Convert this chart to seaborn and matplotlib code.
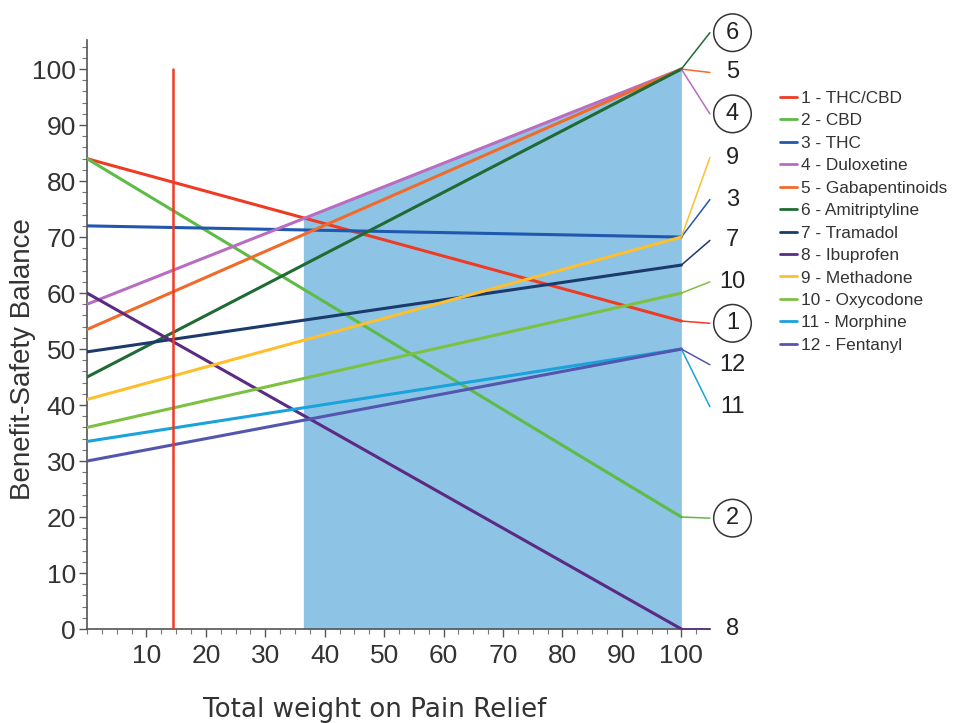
import numpy as np
import pandas as pd
import matplotlib
matplotlib.use("Agg")
import matplotlib.pyplot as plt
import seaborn as sns
from matplotlib.ticker import MultipleLocator, FixedLocator

# ---- data ----
drugs = ["1 - THC/CBD", "2 - CBD", "3 - THC", "4 - Duloxetine", "5 - Gabapentinoids",
         "6 - Amitriptyline", "7 - Tramadol", "8 - Ibuprofen", "9 - Methadone",
         "10 - Oxycodone", "11 - Morphine", "12 - Fentanyl"]
weights = [0, 100]
balance_at_0 = [84, 84, 72, 58, 53.5, 45, 49.5, 60, 41, 36, 33.5, 30]
balance_at_100 = [55, 20, 70, 100, 100, 100, 65, 0, 70, 60, 50, 50]
colors = ["#EE3B24", "#5DBB46", "#2058B0", "#B86CC2", "#F26A2A", "#1F6B33",
          "#1C3A6C", "#5B2A83", "#FDBF2D", "#7CC142", "#1AA2DA", "#5356AE"]
current_weight = 14.4
region_start = 36.4
short_labels = ["1", "2", "3", "4", "5", "6", "7", "8", "9", "10", "11", "12"]
circled = ["1", "2", "4", "6"]

# label positions on the right (layout)
label_y = {"6": 106.5, "5": 99.4, "4": 92.0, "9": 84.2, "3": 76.7, "7": 69.4,
           "10": 62.0, "1": 54.6, "12": 47.2, "11": 39.7, "2": 19.8, "8": 0.0}

rows = []
for d, a, b in zip(drugs, balance_at_0, balance_at_100):
    rows.append({"drug": d, "w": weights[0], "b": a})
    rows.append({"drug": d, "w": weights[1], "b": b})
df = pd.DataFrame(rows)

sns.set_style("white")
plt.rcParams["font.family"] = ["Liberation Sans", "DejaVu Sans"]

fig = plt.figure(figsize=(9.71, 7.23), dpi=100)
ax = fig.add_axes([0.0896, 0.130, 0.6415, 0.8147])

# shaded region under upper envelope
xs = np.linspace(region_start, 100, 400)
env = np.max([np.interp(xs, weights, [a, b]) for a, b in zip(balance_at_0, balance_at_100)], axis=0)
ax.fill_between(xs, 0, env, color="#8DC4E5", lw=0, zorder=1)

sns.lineplot(data=df, x="w", y="b", hue="drug", hue_order=drugs, palette=colors,
             lw=2.2, ax=ax, zorder=3)

ax.plot([current_weight, current_weight], [0, 100], color="#EE3B24", lw=1.8, zorder=4)

# leader lines and labels
lx_end = 104.8
for s, col, b in zip(short_labels, colors, balance_at_100):
    ly = label_y[s]
    ax.plot([100, lx_end], [b, ly], color=col, lw=1.1, clip_on=False, zorder=3)
    if s in circled:
        ax.text(108.6, ly, s, fontsize=17, ha="center", va="center", color="#222222",
                clip_on=False,
                bbox=dict(boxstyle="circle,pad=0.33", fc="white", ec="#333333", lw=1.1))
    else:
        ax.text(108.6, ly, s, fontsize=17, ha="center", va="center", color="#222222",
                clip_on=False)

ax.set_xlim(0, 104.8)
ax.set_ylim(0, 105.2)
ax.xaxis.set_major_locator(FixedLocator(np.arange(10, 101, 10)))
ax.xaxis.set_minor_locator(MultipleLocator(2.5))
ax.yaxis.set_major_locator(MultipleLocator(10))
ax.yaxis.set_minor_locator(MultipleLocator(2))
ax.set_yticks(np.arange(0, 101, 10))
ax.tick_params(axis="x", which="major", labelsize=19, length=6, width=1, color="#555555",
               labelcolor="#333333", direction="out", bottom=True, pad=5)
ax.tick_params(axis="y", which="major", labelsize=19, length=6, width=1, color="#555555",
               labelcolor="#333333", direction="out", left=True, pad=2)
ax.tick_params(which="minor", length=3.5, width=0.8, color="#777777", direction="out",
               bottom=True, left=True)
for sp in ["top", "right"]:
    ax.spines[sp].set_visible(False)
for sp in ["left", "bottom"]:
    ax.spines[sp].set_color("#555555")
    ax.spines[sp].set_linewidth(1.2)

ax.set_ylabel("Benefit-Safety Balance", fontsize=20, color="#333333")
ax.yaxis.set_label_coords(-0.082, 0.458)
ax.set_xlabel("Total weight on Pain Relief", fontsize=18.8, color="#333333",
              family="DejaVu Sans")
ax.xaxis.set_label_coords(0.462, -0.115)

handles, labels = ax.get_legend_handles_labels()
ax.get_legend().remove()
leg = fig.legend(handles, labels, loc="upper left", bbox_to_anchor=(0.796, 0.884),
                 frameon=False, fontsize=12.4, handlelength=1.0, handletextpad=0.25,
                 labelspacing=0.43, borderaxespad=0)
for t in leg.get_texts():
    t.set_color("#333333")
for h in leg.legend_handles:
    h.set_linewidth(2)

fig.savefig("out.png", dpi=100)
